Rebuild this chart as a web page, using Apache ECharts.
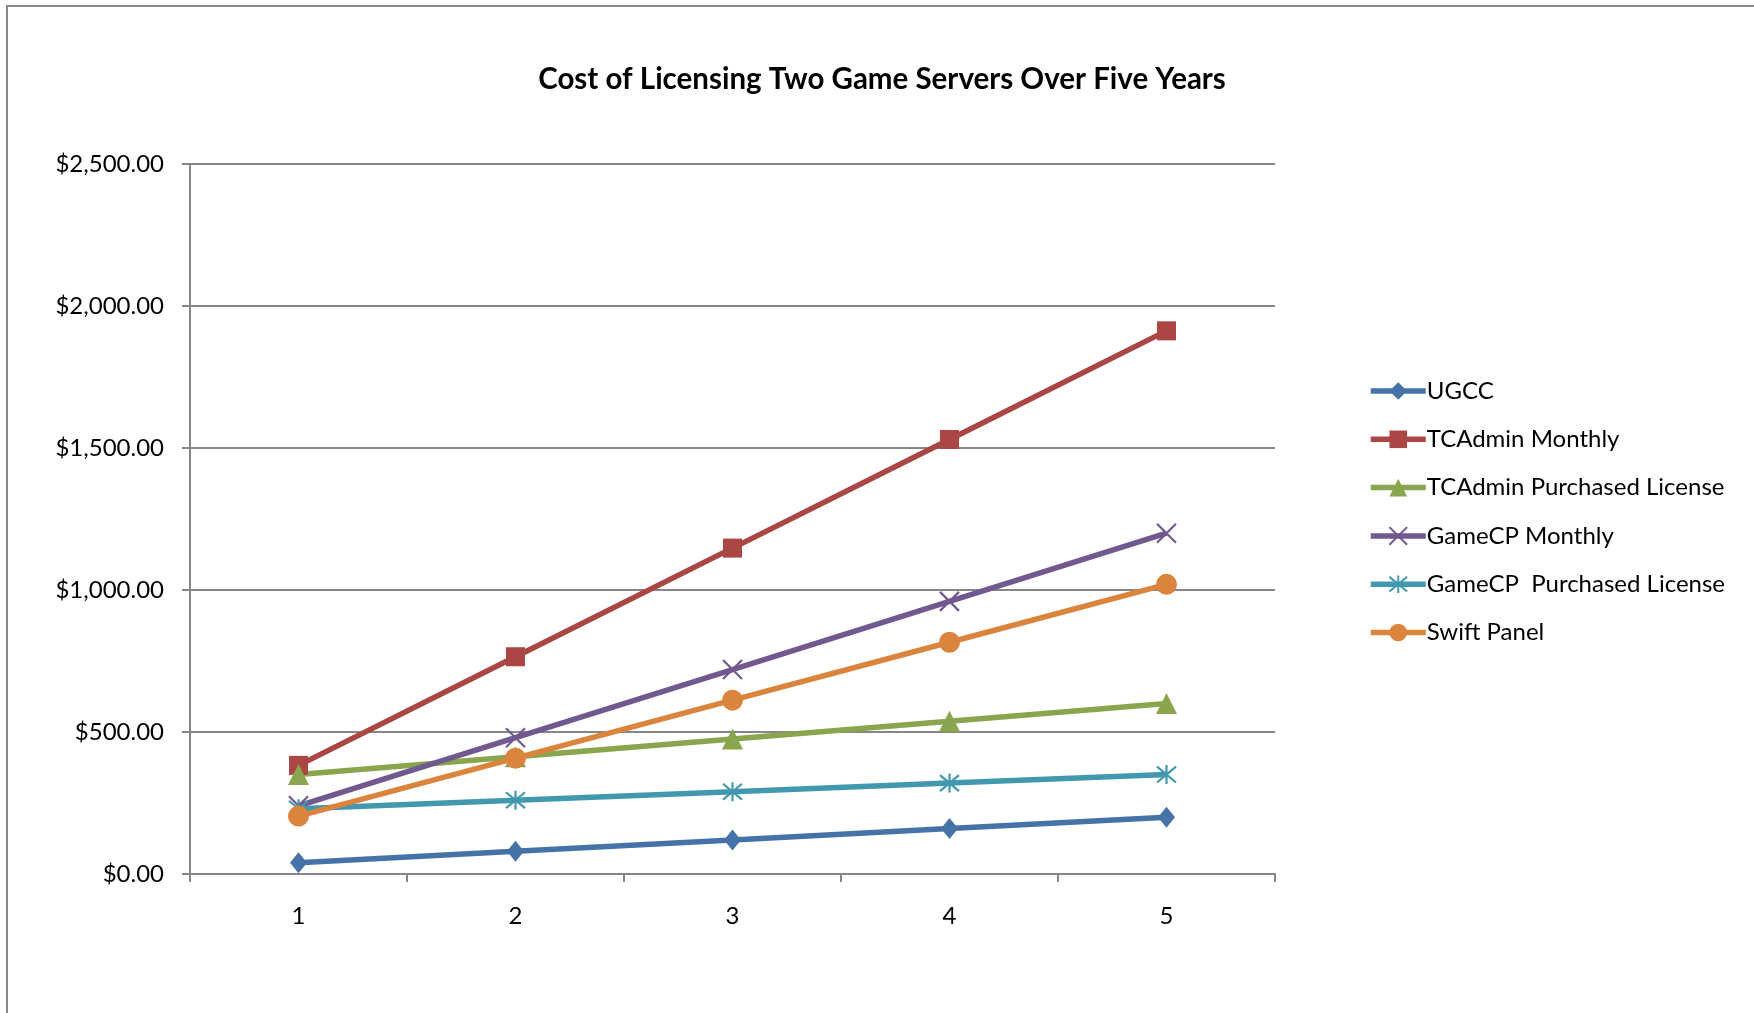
<!DOCTYPE html>
<html>
<head>
<meta charset="utf-8">
<script src="https://cdn.jsdelivr.net/npm/echarts@6/dist/echarts.min.js"></script>
<style>
html,body{margin:0;padding:0;background:#fff;}
#chart{width:1754px;height:1013px;}
</style>
</head>
<body>
<div id="chart"></div>
<script>
const titleText = 'Cost of Licensing Two Game Servers Over Five Years';
const categories = ['1', '2', '3', '4', '5'];
const seriesNames = ['UGCC', 'TCAdmin Monthly', 'TCAdmin Purchased License', 'GameCP Monthly', 'GameCP  Purchased License', 'Swift Panel'];
const ugcc = [40, 80, 120, 160, 200];
const tcadminMonthly = [382.5, 765, 1147.5, 1530, 1912.5];
const tcadminPurchased = [350, 412.5, 475, 537.5, 600];
const gamecpMonthly = [240, 480, 720, 960, 1200];
const gamecpPurchased = [230, 260, 290, 320, 350];
const swiftPanel = [204, 408, 612, 816, 1020];
const yTicks = [0, 500, 1000, 1500, 2000, 2500];

const colors = ['#4572A7', '#AA4643', '#89A54E', '#71588F', '#4198AF', '#DB843D'];
const symbols = [
  'diamond', 'rect', 'triangle',
  'path://M0,0L20,20M20,0L0,20',
  'path://M0,0L20,20M20,0L0,20M10,-2L10,22',
  'circle'
];
const symbolSizes = [[17, 21], 19, 21, 19, 19, 21];
const allData = [ugcc, tcadminMonthly, tcadminPurchased, gamecpMonthly, gamecpPurchased, swiftPanel];
const FONT = 'Lato';

const chart = echarts.init(document.getElementById('chart'), null, {renderer: 'canvas'});

const series = allData.map((d, i) => {
  const isPath = symbols[i].startsWith('path://');
  return {
    name: seriesNames[i],
    type: 'line',
    data: d,
    symbol: symbols[i],
    symbolSize: symbolSizes[i],
    showAllSymbol: true,
    lineStyle: {color: colors[i], width: 5.5},
    itemStyle: isPath ? {color: colors[i], borderColor: colors[i], borderWidth: 2.2} : {color: colors[i], borderWidth: 0},
    emphasis: {disabled: true},
    animation: false,
    z: 2
  };
});

const option = {
  animation: false,
  backgroundColor: '#fff',
  title: {
    text: titleText,
    left: 877, top: 59, textAlign: 'center',
    textStyle: {fontFamily: FONT, fontWeight: 'bold', fontSize: 29.5, color: '#000'}
  },
  grid: {left: 190, right: 479, top: 164, bottom: 139, containLabel: false},
  legend: {
    orient: 'vertical',
    left: 1363, top: 374,
    itemWidth: 55, itemHeight: 22, itemGap: 24.3,
    lineStyle: {width: 5.5},
    textStyle: {fontFamily: FONT, fontSize: 24, color: '#000', padding: [0, 0, 0, -4], lineHeight: 22},
    data: seriesNames
  },
  xAxis: {
    type: 'category',
    data: categories,
    boundaryGap: true,
    axisLine: {show: true, lineStyle: {color: '#868686', width: 2}},
    axisTick: {show: true, inside: false, length: 8, alignWithLabel: false, lineStyle: {color: '#868686', width: 2}},
    axisLabel: {fontFamily: FONT, fontSize: 24, color: '#000', margin: 30},
    splitLine: {show: false}
  },
  yAxis: {
    type: 'value',
    min: yTicks[0], max: yTicks[yTicks.length - 1], interval: 500,
    axisLine: {show: true, lineStyle: {color: '#868686', width: 2}},
    axisTick: {show: true, inside: false, length: 8, lineStyle: {color: '#868686', width: 2}},
    axisLabel: {
      fontFamily: FONT, fontSize: 24, color: '#000', margin: 26,
      formatter: v => '$' + v.toLocaleString('en-US', {minimumFractionDigits: 2, maximumFractionDigits: 2})
    },
    splitLine: {show: true, lineStyle: {color: '#868686', width: 2}}
  },
  graphic: [{
    type: 'rect',
    shape: {x: 7, y: 6, width: 1800, height: 1100},
    style: {fill: 'none', stroke: '#888', lineWidth: 2},
    silent: true, z: -1
  }],
  series: series
};
chart.setOption(option);
</script>
</body>
</html>
